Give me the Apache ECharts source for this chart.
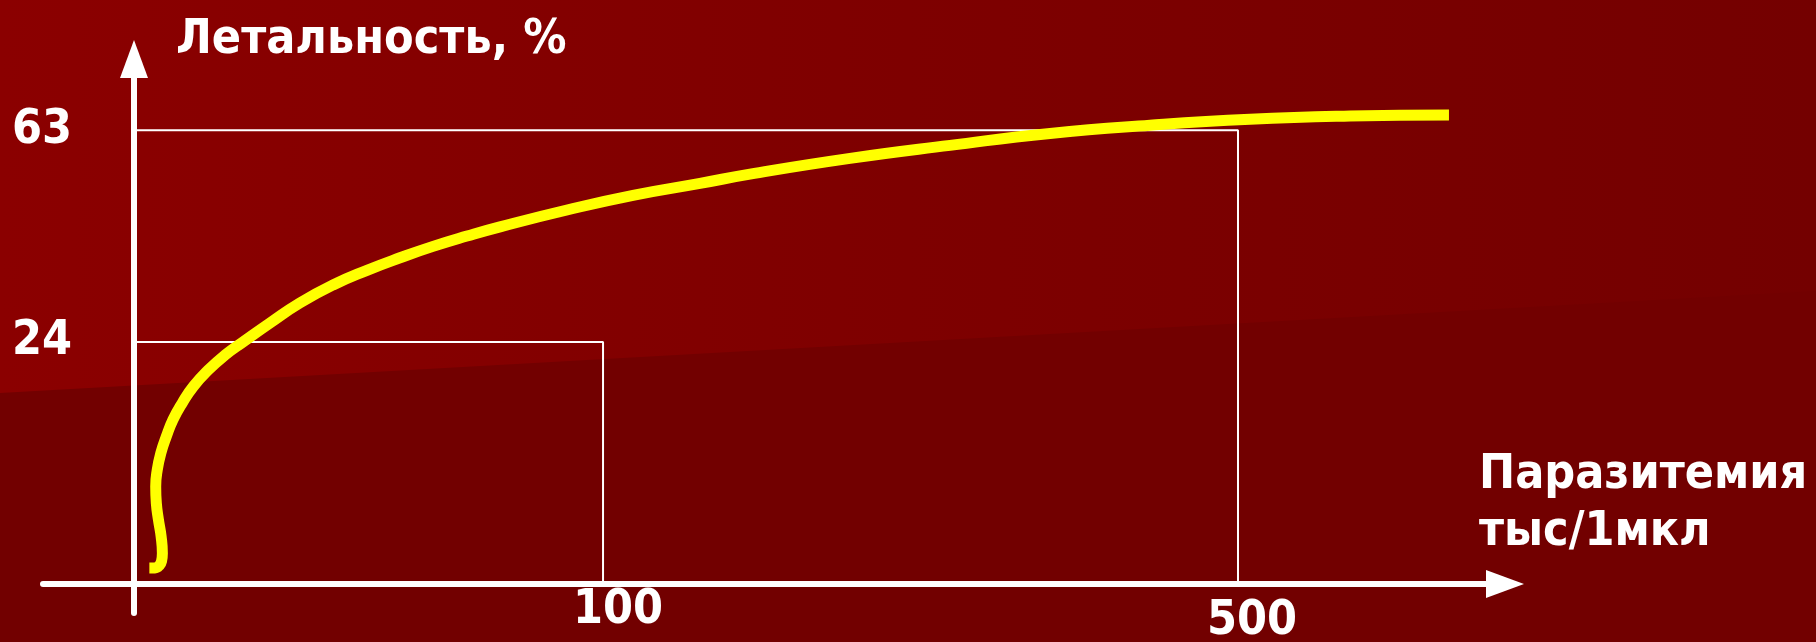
<!DOCTYPE html>
<html>
<head>
<meta charset="utf-8">
<script src="https://cdn.jsdelivr.net/npm/echarts@6/dist/echarts.min.js"></script>
<style>
html,body{margin:0;padding:0;background:#720000;}
#chart{width:1816px;height:642px;}
</style>
</head>
<body>
<div id="chart"></div>
<script>
// ---- data (schematic diagram) ----
const yAxisName = 'Летальность, %';
const xAxisName = 'Паразитемия\nтыс/1мкл';
const xTicks = [100, 500];
const yTicks = [24, 63];
const guideX = [100, 500];
const guideY = [24, 63];
// yellow curve, in axis units
const curveX = [-185.8, -182.2, -179.4, -178.1, -177.6, -178.4, -180.1, -181.4, -181.8, -180.8, -178.6, -175.1, -170.9, -165.0, -158.1, -148.8, -138.1, -126.8, -109.8, -90.9, -70.1, -48.7, -27.9, -7.1, 14.3, 35.1, 77.3, 118.9, 161.1, 192.6, 255.6, 318.6, 381.6, 444.6, 507.6, 570.6, 632.9];
const curveY = [-17.6, -17.6, -17.1, -16.3, -14.9, -11.8, -8.7, -5.7, -2.6, 0.5, 3.5, 6.6, 9.7, 12.8, 15.8, 18.8, 21.6, 24.0, 27.5, 31.2, 34.5, 37.2, 39.5, 41.6, 43.5, 45.2, 48.3, 51.0, 53.2, 54.9, 57.8, 60.2, 62.4, 63.9, 65.0, 65.6, 65.8];
// axis extents and crossing point of the two axes (axis units)
const xRange = [-252.8, 668.2];
const yRange = [-25.9, 76.1];
const xCross = -195.4;   // where the vertical axis stands
const yCross = -20.5;    // where the horizontal axis lies

const FONT = "'DejaVu Sans Condensed', 'DejaVu Sans', sans-serif";
const chart = echarts.init(document.getElementById('chart'), null, {renderer: 'canvas'});

const guides = guideX.map((gx, i) => ({
  type: 'line', silent: true, symbol: 'none', z: 2,
  lineStyle: {color: '#ffffff', width: 2},
  data: [[xCross, guideY[i]], [gx, guideY[i]], [gx, yCross]]
}));

const option = {
  backgroundColor: {
    type: 'linear', x: 0, y: 0, x2: 1, y2: 0,
    colorStops: [{offset: 0, color: '#8b0000'}, {offset: 0.5, color: '#7e0000'}, {offset: 1, color: '#740000'}]
  },
  graphic: [{
    type: 'polygon', z: -10, silent: true,
    shape: {points: [[0, 393], [1816, 291], [1816, 642], [0, 642]]},
    style: {fill: '#720000'}
  }],
  animation: false,
  grid: {left: 43, right: 311, top: 59, bottom: 29, containLabel: false, outerBoundsMode: 'none'},
  xAxis: {
    type: 'value', min: xRange[0], max: xRange[1], offset: -29,
    axisLine: {show: true, onZero: false, symbol: ['none', 'triangle'], symbolSize: [28, 38],
      lineStyle: {color: '#ffffff', width: 6}},
    axisTick: {show: false}, splitLine: {show: false},
    axisLabel: {
      customValues: xTicks, margin: 3, color: '#ffffff',
      fontSize: 48, fontWeight: 'bold', fontFamily: FONT,
      formatter: (v) => '{t' + xTicks.indexOf(v) + '|' + v + '}',
      rich: {
        t0: {fontSize: 48, fontWeight: 'bold', fontFamily: FONT, color: '#fff', lineHeight: 48, padding: [0, 0, 0, 30]},
        t1: {fontSize: 48, fontWeight: 'bold', fontFamily: FONT, color: '#fff', lineHeight: 48, padding: [21, 0, 0, 28]}
      }
    },
    name: xAxisName, nameLocation: 'end', nameGap: -26, nameMoveOverlap: false,
    nameTextStyle: {color: '#ffffff', fontSize: 48, fontWeight: 'bold', fontFamily: FONT,
      align: 'left', verticalAlign: 'bottom', lineHeight: 57, padding: [0, 0, 23, 0]}
  },
  yAxis: {
    type: 'value', min: yRange[0], max: yRange[1], offset: -91,
    axisLine: {show: true, onZero: false, symbol: ['none', 'triangle'], symbolSize: [28, 38],
      lineStyle: {color: '#ffffff', width: 6}},
    axisTick: {show: false}, splitLine: {show: false},
    axisLabel: {
      customValues: yTicks, margin: 62, color: '#ffffff',
      fontSize: 48, fontWeight: 'bold', fontFamily: FONT,
      lineHeight: 48, padding: [0, 0, 14, 0]
    },
    name: yAxisName, nameLocation: 'end', nameGap: 18, nameMoveOverlap: false,
    nameTextStyle: {color: '#ffffff', fontSize: 48, fontWeight: 'bold', fontFamily: FONT,
      align: 'left', verticalAlign: 'middle', padding: [0, 0, 0, 42]}
  },
  series: guides.concat([{
    type: 'line', silent: true, symbol: 'none', smooth: 0.5, z: 5,
    lineStyle: {color: '#ffff00', width: 11, cap: 'butt', join: 'round'},
    data: curveX.map((x, i) => [x, curveY[i]])
  }])
};
chart.setOption(option);
</script>
</body>
</html>
